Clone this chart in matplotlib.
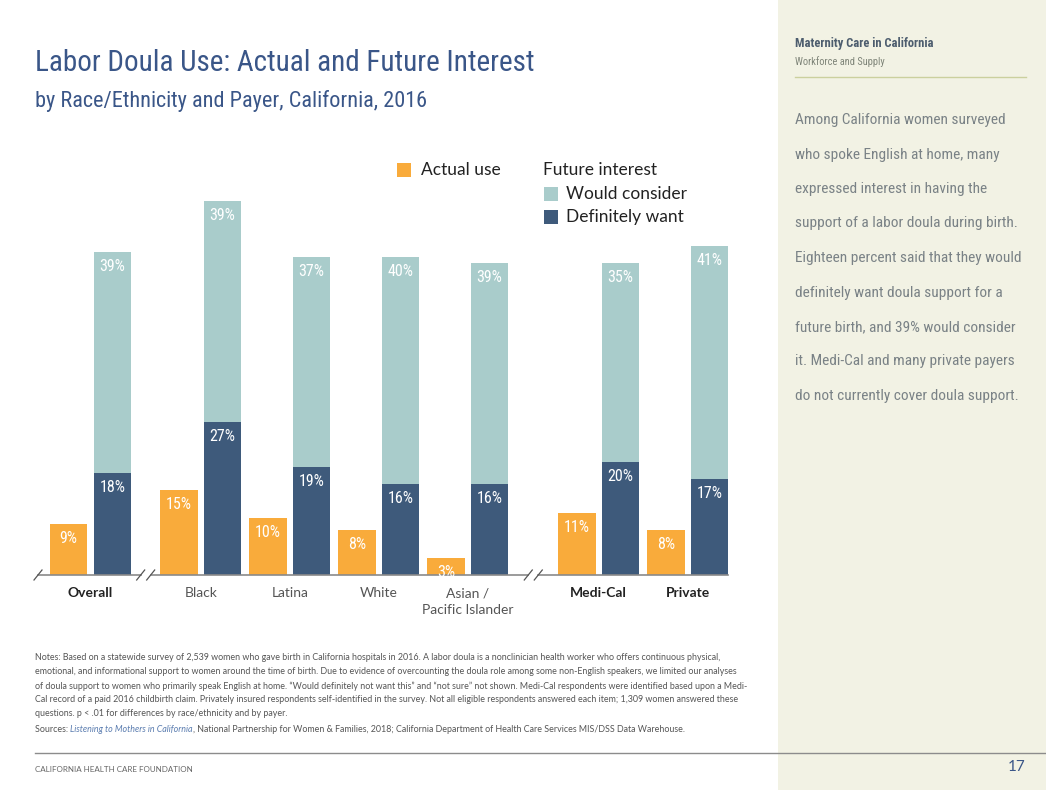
import matplotlib
matplotlib.use("Agg")
import matplotlib.pyplot as plt
from matplotlib import font_manager
from matplotlib.patches import Rectangle
from matplotlib.lines import Line2D
import numpy as np

# ---- data ----
groups = ["Overall", "Black", "Latina", "White", "Asian /\nPacific Islander", "Medi-Cal", "Private"]
bold_groups = ["Overall", "Medi-Cal", "Private"]
actual_use = [9, 15, 10, 8, 3, 11, 8]
definitely_want = [18, 27, 19, 16, 16, 20, 17]
would_consider = [39, 39, 37, 40, 39, 35, 41]

notes_lines = [
    "Notes: Based on a statewide survey of 2,539 women who gave birth in California hospitals in 2016. A labor doula is a nonclinician health worker who offers continuous physical,",
    "emotional, and informational support to women around the time of birth. Due to evidence of overcounting the doula role among some non-English speakers, we limited our analyses",
    "of doula support to women who primarily speak English at home. \u201cWould definitely not want this\u201d and \u201cnot sure\u201d not shown. Medi-Cal respondents were identified based upon a Medi-",
    "Cal record of a paid 2016 childbirth claim. Privately insured respondents self-identified in the survey. Not all eligible respondents answered each item; 1,309 women answered these",
    "questions. p < .01 for differences by race/ethnicity and by payer.",
]
sidebar_lines = [
    "Among California women surveyed",
    "who spoke English at home, many",
    "expressed interest in having the",
    "support of a labor doula during birth.",
    "Eighteen percent said that they would",
    "definitely want doula support for a",
    "future birth, and 39% would consider",
    "it. Medi-Cal and many private payers",
    "do not currently cover doula support.",
]

ORANGE = "#F9AB3B"
TEAL = "#A9CCCB"
NAVY = "#3E5A7B"
TITLE_BLUE = "#3A5688"
GRAY = "#555555"

installed = {f.name for f in font_manager.fontManager.ttflist}
cond = next((f for f in ["Liberation Sans Narrow", "Roboto Condensed", "Open Sans Condensed"] if f in installed), "DejaVu Sans")
body = "Lato" if "Lato" in installed else "DejaVu Sans"

W, H = 1046, 790
fig = plt.figure(figsize=(W / 100, H / 100), dpi=100)
fig.patch.set_facecolor("white")


def fx(px):
    return px / W


def fy(py):
    return 1 - py / H


# sidebar
fig.add_artist(Rectangle((fx(778), 0), 1 - fx(778), 1, transform=fig.transFigure,
                         facecolor="#F2F2E4", edgecolor="none", zorder=0))
fig.text(fx(795), fy(44), "Maternity Care in California", family=cond, weight="bold",
         fontsize=9, color="#4D5D6E", va="center")
fig.text(fx(795), fy(62), "Workforce and Supply", family=cond, fontsize=7.5,
         color="#7E8478", va="center")
fig.add_artist(Line2D([fx(795), fx(1026)], [fy(77), fy(77)], transform=fig.transFigure,
                      color="#CBD09E", lw=1))
for i, line in enumerate(sidebar_lines):
    fig.text(fx(795), fy(120 + i * 34.5), line, family=cond, fontsize=11.1,
             color="#7A8286", va="center")

# titles
fig.text(fx(35), fy(63), "Labor Doula Use: Actual and Future Interest", family=cond,
         fontsize=21, color=TITLE_BLUE, va="center")
fig.text(fx(35), fy(101), "by Race/Ethnicity and Payer, California, 2016", family=cond,
         fontsize=16, color=TITLE_BLUE, va="center")

# chart axes: group centre px = 90.5 + 89 * x, baseline at py 575
gap = np.array([0, 0.24, 0.24, 0.24, 0.24, 0.71, 0.71])
xpos = np.arange(len(groups)) + gap
px_per_unit = 89.0
px_per_pct = 5.67
left_px, right_px, top_px, base_px = 30, 740, 190, 575
ax = fig.add_axes([fx(left_px), fy(base_px), fx(right_px - left_px), (base_px - top_px) / H])
ax.set_xlim((left_px - 90.5) / px_per_unit, (right_px - 90.5) / px_per_unit)
ax.set_ylim(0, (base_px - top_px) / px_per_pct)
ax.axis("off")

bw = 0.42
off = 0.245
b1 = ax.bar(xpos - off, actual_use, bw, color=ORANGE)
b2 = ax.bar(xpos + off, definitely_want, bw, color=NAVY)
b3 = ax.bar(xpos + off, would_consider, bw, bottom=definitely_want, color=TEAL)

for bars, vals in [(b1, actual_use), (b2, definitely_want), (b3, would_consider)]:
    for r, v in zip(bars, vals):
        ax.annotate(f"{v}%", (r.get_x() + r.get_width() / 2, r.get_y() + r.get_height()),
                    xytext=(0, -5), textcoords="offset points", ha="center", va="top",
                    family=cond, fontsize=11.5, color="white")

# baseline with break marks
dx = 1 / px_per_unit
dy = 1 / px_per_pct
brk1 = (xpos[0] + xpos[1]) / 2
brk2 = (xpos[4] + xpos[5]) / 2
x0 = xpos[0] - off - bw / 2 - 12 * dx
x1 = xpos[-1] + off + bw / 2
segs = [(x0, brk1 - 5 * dx), (brk1 + 5 * dx, brk2 - 5 * dx), (brk2 + 5 * dx, x1)]
for a, b in segs:
    ax.plot([a, b], [0, 0], color="#8A8A8A", lw=1.2, clip_on=False)
for sx in [x0, brk1 - 5 * dx, brk1 + 5 * dx, brk2 - 5 * dx, brk2 + 5 * dx]:
    ax.plot([sx - 4 * dx, sx + 4 * dx], [-5 * dy, 5 * dy], color="#555555", lw=0.9, clip_on=False)

for x, g in zip(xpos, groups):
    two_line = "\n" in g
    ax.text(x, (-12 if two_line else -18) * dy, g, ha="center",
            va="top" if two_line else "center", family=body, fontsize=10,
            weight="bold" if g in bold_groups else "normal",
            color="#222222" if g in bold_groups else GRAY, linespacing=1.5)

# legend
def swatch(px, py, color):
    fig.add_artist(Rectangle((fx(px), fy(py + 14)), 14 / W, 14 / H, transform=fig.transFigure,
                             facecolor=color, edgecolor="none"))

swatch(397, 163, ORANGE)
fig.text(fx(421), fy(170), "Actual use", family=body, fontsize=12.5, color="#222222", va="center")
fig.text(fx(543), fy(170), "Future interest", family=body, fontsize=12.5, color="#222222", va="center")
swatch(544, 187, TEAL)
fig.text(fx(566), fy(194), "Would consider", family=body, fontsize=12.5, color="#222222", va="center")
swatch(544, 210, NAVY)
fig.text(fx(566), fy(217), "Definitely want", family=body, fontsize=12.5, color="#222222", va="center")

# notes
for i, line in enumerate(notes_lines):
    fig.text(fx(35), fy(658 + i * 14), line, family=body, fontsize=6.4, color=GRAY, va="center")

# sources line built from pieces
fig.canvas.draw()
renderer = fig.canvas.get_renderer()
pieces = [("Sources: ", "normal", GRAY),
          ("Listening to Mothers in California", "italic", "#5B7DB0"),
          (", National Partnership for Women & Families, 2018; California Department of Health Care Services MIS/DSS Data Warehouse.", "normal", GRAY)]
cur = fx(35)
for txt, style, col in pieces:
    t = fig.text(cur, fy(729), txt, family=body, fontsize=6.4, style=style, color=col, va="center")
    bb = t.get_window_extent(renderer)
    cur += bb.width / W

# footer
fig.add_artist(Line2D([fx(35), fx(1046)], [fy(753), fy(753)], transform=fig.transFigure,
                      color="#8C8C8C", lw=1))
fig.text(fx(35), fy(769), "CALIFORNIA HEALTH CARE FOUNDATION", family=body, fontsize=5.8,
         color="#666666", va="center")
fig.text(fx(1026), fy(767), "17", family=body, fontsize=11, color=TITLE_BLUE, va="center", ha="right")

fig.savefig("out.png", dpi=100, facecolor=fig.get_facecolor())
